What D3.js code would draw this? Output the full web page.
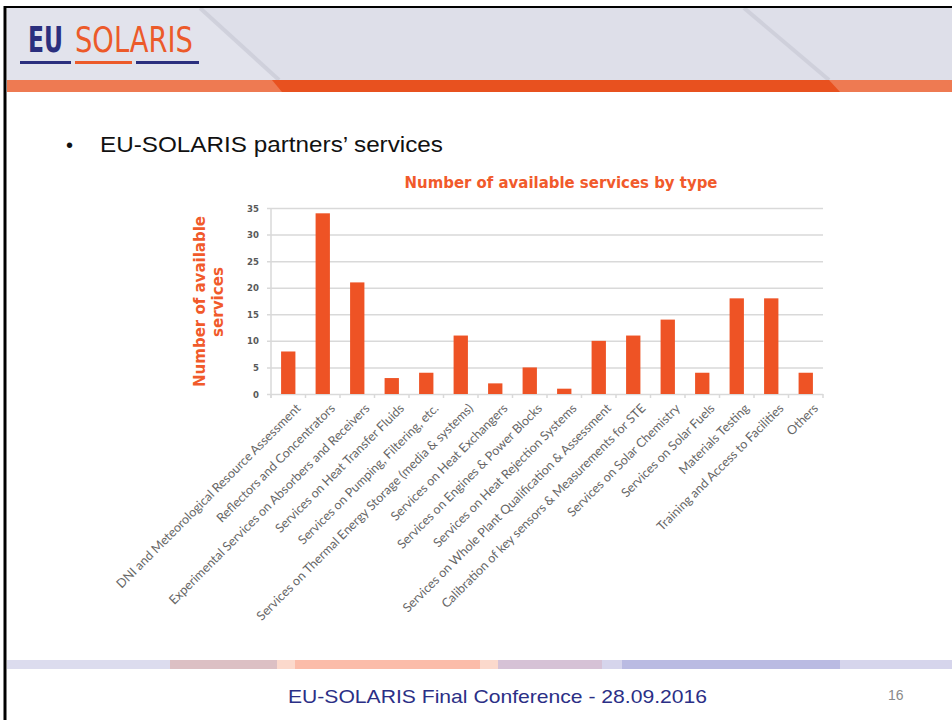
<!DOCTYPE html>
<html>
<head>
<meta charset="utf-8">
<script src="https://cdn.jsdelivr.net/npm/d3@7"></script>
<style>
  body { margin: 0; background: #fff; }
  svg { display: block; }
</style>
</head>
<body>
<svg id="slide" width="952" height="720"></svg>
<script>
// chart data
var categories = [
  "DNI and Meteorological Resource Assessment",
  "Reflectors and Concentrators",
  "Experimental Services on Absorbers and Receivers",
  "Services on Heat Transfer Fluids",
  "Services on Pumping, Filtering, etc.",
  "Services on Thermal Energy Storage (media & systems)",
  "Services on Heat Exchangers",
  "Services on Engines & Power Blocks",
  "Services on Heat Rejection Systems",
  "Services on Whole Plant Qualification & Assessment",
  "Calibration of key sensors & Measurements for STE",
  "Services on Solar Chemistry",
  "Services on Solar Fuels",
  "Materials Testing",
  "Training and Access to Facilities",
  "Others"
];
var values = [8, 34, 21, 3, 4, 11, 2, 5, 1, 10, 11, 14, 4, 18, 18, 4];
var yTicks = [0, 5, 10, 15, 20, 25, 30, 35];

var svg = d3.select("#slide");
var orange = "#ee5325";
var navy = "#2b2f7e";

// ---- slide header ----
svg.append("rect").attr("x", 7).attr("y", 8).attr("width", 945).attr("height", 72).attr("fill", "#dedfe9");
svg.append("polygon").attr("points", "7,8 200,8 279,80 7,80").attr("fill", "#e2e3ec");
svg.append("line").attr("x1", 200).attr("y1", 8).attr("x2", 279).attr("y2", 80)
  .attr("stroke", "#c9cad6").attr("stroke-width", 4).attr("opacity", 0.7);
svg.append("line").attr("x1", 744).attr("y1", 8).attr("x2", 829).attr("y2", 80)
  .attr("stroke", "#c9cad6").attr("stroke-width", 4).attr("opacity", 0.7);

// orange band
svg.append("rect").attr("x", 7).attr("y", 80).attr("width", 945).attr("height", 12).attr("fill", "#ee7a52");
svg.append("polygon").attr("points", "272,80 829,80 840,92 282,92").attr("fill", "#e8511f");

// frame
svg.append("line").attr("x1", 5).attr("y1", 6).attr("x2", 5).attr("y2", 720).attr("stroke", "#000").attr("stroke-width", 3);
svg.append("line").attr("x1", 4).attr("y1", 7).attr("x2", 952).attr("y2", 7).attr("stroke", "#000").attr("stroke-width", 2);

// logo
svg.append("text").attr("x", 28).attr("y", 52)
  .attr("font-family", "'Liberation Sans Narrow', 'DejaVu Sans Condensed', sans-serif")
  .attr("font-weight", "bold").attr("font-size", 36).attr("fill", navy)
  .attr("textLength", 35).attr("lengthAdjust", "spacingAndGlyphs").text("EU");
svg.append("text").attr("x", 75).attr("y", 52)
  .attr("font-family", "'Liberation Sans Narrow', 'DejaVu Sans Condensed', sans-serif")
  .attr("font-size", 36).attr("fill", "#ec5a2a")
  .attr("textLength", 118).attr("lengthAdjust", "spacingAndGlyphs").text("SOLARIS");
svg.append("rect").attr("x", 20).attr("y", 61).attr("width", 51).attr("height", 3).attr("fill", navy);
svg.append("rect").attr("x", 75).attr("y", 61).attr("width", 57).attr("height", 3).attr("fill", "#ec5a2a");
svg.append("rect").attr("x", 136).attr("y", 61).attr("width", 63).attr("height", 3).attr("fill", navy);

// bullet
svg.append("text").attr("x", 66).attr("y", 152)
  .attr("font-family", "'Liberation Sans', Arial, sans-serif").attr("font-size", 20).attr("fill", "#111").text("•");
svg.append("text").attr("x", 100).attr("y", 152)
  .attr("font-family", "'Liberation Sans', Arial, sans-serif").attr("font-size", 22.5).attr("fill", "#111")
  .attr("textLength", 343).attr("lengthAdjust", "spacingAndGlyphs")
  .text("EU-SOLARIS partners\u2019 services");

// ---- chart ----
var plotLeft = 271, plotRight = 823, plotTop = 208, plotBottom = 394;

var x = d3.scaleBand().domain(categories).range([plotLeft, plotRight]).paddingInner(0.585).paddingOuter(0.2925);
var xb = d3.scaleBand().domain(categories).range([plotLeft, plotRight]).padding(0);
var y = d3.scaleLinear().domain([0, 35]).range([plotBottom, plotTop]);

var g = svg.append("g");

// gridlines + y labels
var yAxis = g.append("g")
  .attr("transform", "translate(" + (plotLeft - 4) + ",0)")
  .call(d3.axisLeft(y).tickValues(yTicks).tickSizeInner(-(plotRight - plotLeft + 4)).tickSizeOuter(0).tickPadding(8));
yAxis.select(".domain").remove();
yAxis.selectAll(".tick line").attr("stroke", "#d9d9d9").attr("stroke-width", 1.5);
yAxis.selectAll(".tick text")
  .attr("font-family", "'DejaVu Sans Condensed', sans-serif").attr("font-weight", "bold")
  .attr("font-size", 9.5).attr("fill", "#595959");

// y axis line
g.append("line").attr("x1", plotLeft).attr("x2", plotLeft).attr("y1", plotTop).attr("y2", plotBottom + 4)
  .attr("stroke", "#d9d9d9").attr("stroke-width", 1.5);

// x ticks at category boundaries
var bounds = categories.map(function(c) { return xb(c); }).concat([plotRight]);
g.selectAll(".xtick").data(bounds).enter().append("line")
  .attr("class", "xtick")
  .attr("x1", function(d) { return d; }).attr("x2", function(d) { return d; })
  .attr("y1", plotBottom).attr("y2", plotBottom + 4)
  .attr("stroke", "#d9d9d9").attr("stroke-width", 1.5);

// bars
g.selectAll(".bar").data(values).enter().append("rect")
  .attr("class", "bar")
  .attr("x", function(d, i) { return x(categories[i]); })
  .attr("width", x.bandwidth())
  .attr("y", function(d) { return y(d); })
  .attr("height", function(d) { return plotBottom - y(d); })
  .attr("fill", orange);

// x labels
g.selectAll(".xlab").data(categories).enter().append("text")
  .attr("class", "xlab")
  .attr("transform", function(d) {
    return "translate(" + (x(d) + x.bandwidth() / 2 + 10) + "," + (plotBottom + 12) + ") rotate(-45)";
  })
  .attr("text-anchor", "end")
  .attr("dy", "0.35em")
  .attr("font-family", "Lato, 'Open Sans', sans-serif")
  .attr("font-size", 12.6).attr("fill", "#666")
  .text(function(d) { return d; });

// title
svg.append("text").attr("x", 561).attr("y", 188).attr("text-anchor", "middle")
  .attr("font-family", "'DejaVu Sans Condensed', sans-serif").attr("font-weight", "bold")
  .attr("font-size", 15).attr("fill", "#f15a2b")
  .attr("textLength", 313).attr("lengthAdjust", "spacingAndGlyphs")
  .text("Number of available services by type");

// y axis title
var yt = svg.append("g")
  .attr("transform", "translate(0,302) rotate(-90)")
  .attr("font-family", "'DejaVu Sans Condensed', sans-serif").attr("font-weight", "bold")
  .attr("font-size", 16).attr("fill", "#f15a2b");
yt.append("text").attr("x", -85).attr("y", 205)
  .attr("textLength", 171).attr("lengthAdjust", "spacingAndGlyphs").text("Number of available");
yt.append("text").attr("x", -35).attr("y", 223)
  .attr("textLength", 70).attr("lengthAdjust", "spacingAndGlyphs").text("services");

// ---- footer ----
var footerSegs = [
  { x0: 7, x1: 170, c: "#dcdcee" },
  { x0: 170, x1: 277, c: "#dcc0c4" },
  { x0: 277, x1: 295, c: "#fbd9cc" },
  { x0: 295, x1: 480, c: "#fbbca9" },
  { x0: 480, x1: 498, c: "#fbd9cc" },
  { x0: 498, x1: 602, c: "#d6c2d6" },
  { x0: 602, x1: 622, c: "#d6d5ec" },
  { x0: 622, x1: 840, c: "#babbe2" },
  { x0: 840, x1: 952, c: "#d6d5ec" }
];
svg.selectAll(".fseg").data(footerSegs).enter().append("rect")
  .attr("class", "fseg")
  .attr("x", function(d) { return d.x0; }).attr("width", function(d) { return d.x1 - d.x0; })
  .attr("y", 660).attr("height", 9).attr("fill", function(d) { return d.c; });

svg.append("text").attr("x", 288).attr("y", 703)
  .attr("font-family", "'Liberation Sans', Arial, sans-serif").attr("font-size", 19).attr("fill", "#2b2f86")
  .attr("textLength", 419).attr("lengthAdjust", "spacingAndGlyphs")
  .text("EU-SOLARIS Final Conference - 28.09.2016");
svg.append("text").attr("x", 888).attr("y", 700)
  .attr("font-family", "'Liberation Sans', Arial, sans-serif").attr("font-size", 14).attr("fill", "#8a8a8a")
  .text("16");
</script>
</body>
</html>
